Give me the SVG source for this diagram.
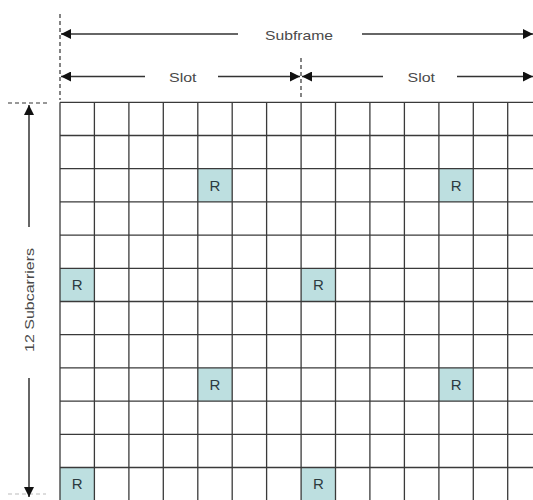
<svg xmlns="http://www.w3.org/2000/svg" width="533" height="500" viewBox="0 0 533 500">
<style>
.grid line{stroke:#3a3a3a;stroke-width:1.3}
.thick{stroke:#111;stroke-width:2.2}
.arr{stroke:#333;stroke-width:1.5;fill:none}
.dash{stroke:#333;stroke-width:1.2;stroke-dasharray:4 3;fill:none}
.lbl{font-family:"Liberation Sans",Arial,sans-serif;font-size:13px;fill:#4a4a4a}
.rc rect{fill:#bddfe0}
.rc text{font-family:"Liberation Sans",Arial,sans-serif;font-size:15px;fill:#2c3b40;text-anchor:middle}
</style>
<defs>
<marker id="ah" viewBox="0 0 10 10" refX="10" refY="5" markerUnits="userSpaceOnUse" markerWidth="10" markerHeight="10" orient="auto-start-reverse">
<path d="M0,0 L10,5 L0,10 z" fill="#111"/>
</marker>
</defs>
<rect width="533" height="500" fill="#fff"/>
<g id="ref-cells" class="rc">
<g id="r1"><rect x="197.8" y="168.7" width="34.4" height="33.2"/><text x="215" y="190.5">R</text></g>
<g id="r2"><rect x="438.9" y="168.7" width="34.4" height="33.2"/><text x="456.1" y="190.5">R</text></g>
<g id="r3"><rect x="60" y="268.3" width="34.4" height="33.2"/><text x="77.2" y="290.1">R</text></g>
<g id="r4"><rect x="301.1" y="268.3" width="34.4" height="33.2"/><text x="318.3" y="290.1">R</text></g>
<g id="r5"><rect x="197.8" y="367.9" width="34.4" height="33.2"/><text x="215" y="389.7">R</text></g>
<g id="r6"><rect x="438.9" y="367.9" width="34.4" height="33.2"/><text x="456.1" y="389.7">R</text></g>
<g id="r7"><rect x="60" y="467.5" width="34.4" height="33.2"/><text x="77.2" y="489.3">R</text></g>
<g id="r8"><rect x="301.1" y="467.5" width="34.4" height="33.2"/><text x="318.3" y="489.3">R</text></g>
</g>
<g id="grid" class="grid">
<line x1="60" y1="102.3" x2="60" y2="500"/>
<line x1="94.4" y1="102.3" x2="94.4" y2="500"/>
<line x1="128.9" y1="102.3" x2="128.9" y2="500"/>
<line x1="163.3" y1="102.3" x2="163.3" y2="500"/>
<line x1="197.8" y1="102.3" x2="197.8" y2="500"/>
<line x1="232.2" y1="102.3" x2="232.2" y2="500"/>
<line x1="266.6" y1="102.3" x2="266.6" y2="500"/>
<line x1="301.1" y1="102.3" x2="301.1" y2="500"/>
<line x1="335.5" y1="102.3" x2="335.5" y2="500" class="thick"/>
<line x1="369.9" y1="102.3" x2="369.9" y2="500"/>
<line x1="404.4" y1="102.3" x2="404.4" y2="500"/>
<line x1="438.9" y1="102.3" x2="438.9" y2="500"/>
<line x1="473.3" y1="102.3" x2="473.3" y2="500"/>
<line x1="507.7" y1="102.3" x2="507.7" y2="500"/>
<line x1="60" y1="102.3" x2="533" y2="102.3"/>
<line x1="60" y1="135.5" x2="533" y2="135.5"/>
<line x1="60" y1="168.7" x2="533" y2="168.7"/>
<line x1="60" y1="201.9" x2="533" y2="201.9"/>
<line x1="60" y1="235.1" x2="533" y2="235.1"/>
<line x1="60" y1="268.3" x2="533" y2="268.3"/>
<line x1="60" y1="301.5" x2="533" y2="301.5"/>
<line x1="60" y1="334.7" x2="533" y2="334.7"/>
<line x1="60" y1="367.9" x2="533" y2="367.9"/>
<line x1="60" y1="401.1" x2="533" y2="401.1"/>
<line x1="60" y1="434.3" x2="533" y2="434.3"/>
<line x1="60" y1="467.5" x2="533" y2="467.5"/>
</g>
<g id="connectors">
<line class="dash" x1="60" y1="14" x2="60" y2="100"/>
<line class="dash" x1="301" y1="58" x2="301" y2="100"/>
<line class="dash" x1="8" y1="103" x2="48" y2="103"/>
<line class="dash" x1="8" y1="494" x2="46" y2="494" style="stroke:#bbb"/>
<line class="arr" x1="238" y1="34" x2="61" y2="34" marker-end="url(#ah)"/>
<line class="arr" x1="362" y1="34" x2="533" y2="34" marker-end="url(#ah)"/>
<line class="arr" x1="145" y1="76.5" x2="61" y2="76.5" marker-end="url(#ah)"/>
<line class="arr" x1="218" y1="76.5" x2="300" y2="76.5" marker-end="url(#ah)"/>
<line class="arr" x1="383" y1="76.5" x2="302" y2="76.5" marker-end="url(#ah)"/>
<line class="arr" x1="457" y1="76.5" x2="533" y2="76.5" marker-end="url(#ah)"/>
<line class="arr" x1="29" y1="227" x2="29" y2="105" marker-end="url(#ah)"/>
<line class="arr" x1="29" y1="378" x2="29" y2="497" marker-end="url(#ah)"/>
</g>
<g id="labels">
<text class="lbl" x="265" y="39.5" textLength="68" lengthAdjust="spacingAndGlyphs">Subframe</text>
<text class="lbl" x="169" y="81.5" textLength="27.5" lengthAdjust="spacingAndGlyphs">Slot</text>
<text class="lbl" x="407.5" y="81.5" textLength="27.5" lengthAdjust="spacingAndGlyphs">Slot</text>
<text class="lbl" transform="translate(34,352) rotate(-90)" x="0" y="0" textLength="104" lengthAdjust="spacingAndGlyphs">12 Subcarriers</text>
</g>
</svg>
